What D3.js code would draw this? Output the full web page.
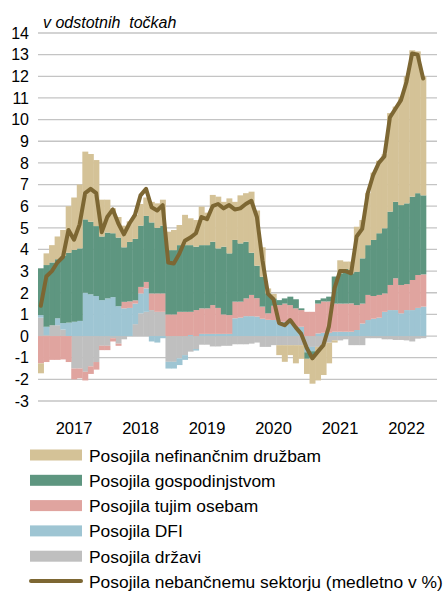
<!DOCTYPE html>
<html>
<head>
<meta charset="utf-8">
<script src="https://cdn.jsdelivr.net/npm/d3@7"></script>
<style>
  body { margin: 0; background: #fff; }
  text { font-family: "Liberation Sans", Arial, sans-serif; fill: #000; }
</style>
</head>
<body>
<svg id="chart" width="447" height="592"></svg>
<script>
// axis months (Jan 2017 - Dec 2022), data runs to Oct 2022
const months = [
  "2017-01","2017-02","2017-03","2017-04","2017-05","2017-06","2017-07","2017-08","2017-09","2017-10","2017-11","2017-12",
  "2018-01","2018-02","2018-03","2018-04","2018-05","2018-06","2018-07","2018-08","2018-09","2018-10","2018-11","2018-12",
  "2019-01","2019-02","2019-03","2019-04","2019-05","2019-06","2019-07","2019-08","2019-09","2019-10","2019-11","2019-12",
  "2020-01","2020-02","2020-03","2020-04","2020-05","2020-06","2020-07","2020-08","2020-09","2020-10","2020-11","2020-12",
  "2021-01","2021-02","2021-03","2021-04","2021-05","2021-06","2021-07","2021-08","2021-09","2021-10","2021-11","2021-12",
  "2022-01","2022-02","2022-03","2022-04","2022-05","2022-06","2022-07","2022-08","2022-09","2022-10","2022-11","2022-12"
];
const yearLabels = ["2017", "2018", "2019", "2020", "2021", "2022"];
const yearLabelMonths = ["2017-07", "2018-07", "2019-07", "2020-07", "2021-07", "2022-07"];
const yTicks = [-3, -2, -1, 0, 1, 2, 3, 4, 5, 6, 7, 8, 9, 10, 11, 12, 13, 14];

// contributions in percentage points
const drzavi = [
  0.85, 0.05, 0.5, 0.5, 0.3, 0, -1.5, -1.5, -1.65, -1.4, -1.2, -0.45,
  -0.45, -0.1, -0.35, -0.15, 0, 0.55, 1.05, 1.12, 1.2, 1.12, 1.12, -1.19,
  -1.19, -1.03, -0.88, -0.72, -0.6, -0.4, -0.4, -0.48, -0.48, -0.45, -0.45, -0.38,
  -0.38, -0.38, -0.35, -0.3, -0.5, -0.5, -0.42, -0.42, -0.42, -0.42, -0.42, -0.42,
  -0.5, -0.5, -0.5, -0.4, -0.3, -0.2, -0.2, -0.15, -0.42, -0.42, -0.42, -0.1,
  -0.1, -0.1, -0.15, -0.15, -0.18, -0.18, -0.2, -0.25, -0.12, -0.1
];
const dfi = [
  0.12, 0.38, 0, 0.32, 0.3, 0.62, 0.66, 0.7, 2.0, 1.93, 1.85, 1.66,
  1.74, 1.8, 1.38, 1.28, 1.3, 0.95, 0.92, 1.08, -0.25, -0.3, -0.1, -0.31,
  -0.31, -0.31, -0.22, 0.05, -0.07, 0.1, 0.1, 0.1, 0.1, 0.1, 0.1, 0.82,
  0.85, 0.92, 0.92, 0.9, 0.8, 0.75, 0.74, 0.66, 0.66, 0.6, 0.43, 0.43,
  -0.25, -0.2, 0.12, 0.15, 0.15, 0.2, 0.2, 0.2, 0.2, 0.28, 0.58, 0.74,
  0.8, 0.85, 1.12, 1.2, 1.2, 1.05, 1.2, 1.2, 1.3, 1.36
];
const tujimOsebam = [
  -1.26, -1.2, -1.1, -1.1, -1.08, -1.2, -0.5, -0.45, -0.4, -0.35, -0.35, -0.2,
  -0.2, -0.15, -0.1, 0.3, 0.3, 0.15, 0.3, 0.3, 0.77, 0.85, 0.85, 1.0,
  1.0, 1.12, 1.12, 1.07, 1.2, 1.18, 1.18, 1.33, 1.2, 0.9, 0.87, 0.77,
  0.74, 0.82, 0.98, 0.85, 0.56, 0.3, 0.66, 0.77, 0.84, 0.83, 0.85, 0.77,
  1.12, 1.12, 1.38, 1.45, 1.45, 1.3, 1.3, 1.3, 1.31, 1.15, 0.92, 1.16,
  1.05, 1.05, 0.85, 1.16, 1.47, 1.31, 1.2, 1.39, 1.52, 1.49
];
const gospodinjstvom = [
  2.16, 2.85, 2.9, 2.73, 3.1, 3.23, 3.32, 3.35, 3.39, 3.35, 3.23, 2.94,
  3.04, 2.95, 3.17, 2.52, 2.75, 2.84, 2.83, 3.05, 3.28, 3.03, 3.13, 2.97,
  2.97, 3.08, 3.08, 3.08, 2.93, 2.92, 2.92, 2.93, 2.75, 3.13, 2.85, 2.85,
  2.69, 2.62, 1.95, 1.5, 1.38, 0.92, 0.34, 0.23, 0.24, 0.39, 0.42, 0.08,
  -0.3, -0.3, 0.16, 0.14, 0.22, 1.25, 1.4, 1.6, 1.39, 1.54, 2.09, 2.3,
  2.59, 2.85, 3.01, 3.39, 3.53, 3.69, 3.73, 3.85, 3.78, 3.65
];
const nefinancnimDruzbam = [
  -0.46, 0.54, 0.8, 1.05, 1.2, 2.15, 2.42, 2.95, 3.13, 3.13, 3.05, 1.7,
  1.52, 1.15, 0.95, 1.0, 0.95, 1.1, 1.0, 0.85, 0.95, 1.13, 1.2, 0.85,
  0.93, 0.93, 1.4, 1.24, 1.23, 1.78, 1.5, 2.16, 2.39, 2.07, 2.54, 1.76,
  2.22, 2.24, 2.82, 2.55, 1.36, 0.23, 0.21, -0.46, -0.77, -0.46, -0.84, -0.63,
  -0.7, -1.2, -1.55, -1.4, -0.96, -0.1, 0.6, 0.34, 0.54, 2.08, 1.77, 2.4,
  3.11, 3.35, 3.42, 4.55, 4.4, 5.0, 5.87, 6.76, 6.55, 5.5
];
// loans to non-banking sector, y/y %
const nebancni = [
  1.4, 2.75, 3.0, 3.4, 3.65, 4.9, 4.45, 5.15, 6.6, 6.8, 6.6, 4.8,
  5.5, 5.85, 5.2, 4.7, 5.2, 5.6, 6.5, 6.8, 5.95, 5.8, 6.05, 3.4,
  3.35, 3.8, 4.4, 4.55, 4.75, 5.5, 5.4, 6.0, 6.1, 5.9, 6.05, 5.85,
  5.9, 6.1, 6.25, 5.5, 3.5, 1.95, 1.7, 0.6, 0.5, 0.74, 0.4, 0.1,
  -0.55, -1.03, -0.72, -0.42, 0.45, 2.2, 3.0, 3.0, 2.9, 4.6, 4.95, 6.6,
  7.45, 8.0, 8.3, 10.1, 10.5, 10.9, 11.75, 13.05, 13.0, 11.9
];

const seriesKeys = ["drzavi", "dfi", "tujim", "gospodinjstvom", "nefinancnim"];
const seriesColors = {
  drzavi: "#bfbfbf",
  dfi: "#9ec5d3",
  tujim: "#e0a49f",
  gospodinjstvom: "#5e9680",
  nefinancnim: "#d4c297"
};
const lineColor = "#7d6733";

const rows = nebancni.map((v, i) => ({
  month: months[i],
  drzavi: drzavi[i],
  dfi: dfi[i],
  tujim: tujimOsebam[i],
  gospodinjstvom: gospodinjstvom[i],
  nefinancnim: nefinancnimDruzbam[i],
  line: v
}));

const svg = d3.select("#chart");

const x = d3.scaleBand().domain(months).range([38, 437]).padding(0);
const y = d3.scaleLinear().domain([-3, 14]).range([401, 33]);

// gridlines
svg.append("g")
  .selectAll("line")
  .data(yTicks)
  .join("line")
    .attr("x1", 38).attr("x2", 437)
    .attr("y1", d => y(d)).attr("y2", d => y(d))
    .attr("stroke", "#c4c4c4")
    .attr("stroke-width", 1.3);

// y tick labels
svg.append("g")
  .selectAll("text")
  .data(yTicks)
  .join("text")
    .attr("x", 29)
    .attr("y", d => y(d))
    .attr("dy", "0.36em")
    .attr("text-anchor", "end")
    .style("font-size", "16px")
    .text(d => d);

// stacked bars, positives up / negatives down
const stacked = d3.stack()
  .keys(seriesKeys)
  .offset(d3.stackOffsetDiverging)(rows);

svg.append("g")
  .selectAll("g")
  .data(stacked)
  .join("g")
    .attr("fill", d => seriesColors[d.key])
  .selectAll("rect")
  .data(d => d)
  .join("rect")
    .attr("x", d => x(d.data.month))
    .attr("width", x.bandwidth() + 0.4)
    .attr("y", d => y(Math.max(d[0], d[1])))
    .attr("height", d => Math.abs(y(d[0]) - y(d[1])));

// growth line
const line = d3.line()
  .x(d => x(d.month) + x.bandwidth() / 2)
  .y(d => y(d.line));

svg.append("path")
  .datum(rows)
  .attr("d", line)
  .attr("fill", "none")
  .attr("stroke", lineColor)
  .attr("stroke-width", 4)
  .attr("stroke-linejoin", "round")
  .attr("stroke-linecap", "round");

// year labels
svg.append("g")
  .selectAll("text")
  .data(yearLabels)
  .join("text")
    .attr("x", (d, i) => x(yearLabelMonths[i]) + x.bandwidth() / 2)
    .attr("y", 434)
    .attr("text-anchor", "middle")
    .style("font-size", "16.5px")
    .text(d => d);

// unit title
svg.append("text")
  .attr("x", 43)
  .attr("y", 28)
  .attr("xml:space", "preserve")
  .style("font-size", "16px")
  .style("font-style", "italic")
  .text("v odstotnih  točkah");

// legend
const legendItems = [
  { label: "Posojila nefinančnim družbam", color: seriesColors.nefinancnim, type: "rect" },
  { label: "Posojila gospodinjstvom", color: seriesColors.gospodinjstvom, type: "rect" },
  { label: "Posojila tujim osebam", color: seriesColors.tujim, type: "rect" },
  { label: "Posojila DFI", color: seriesColors.dfi, type: "rect" },
  { label: "Posojila državi", color: seriesColors.drzavi, type: "rect" },
  { label: "Posojila nebančnemu sektorju (medletno v %)", color: lineColor, type: "line" }
];

const legend = svg.append("g")
  .selectAll("g")
  .data(legendItems)
  .join("g")
    .attr("transform", (d, i) => `translate(0,${461.5 + i * 25.3})`);

legend.filter(d => d.type === "rect")
  .append("rect")
    .attr("x", 30).attr("y", -12)
    .attr("width", 52).attr("height", 11)
    .attr("fill", d => d.color);

legend.filter(d => d.type === "line")
  .append("line")
    .attr("x1", 31).attr("x2", 81)
    .attr("y1", -7).attr("y2", -7)
    .attr("stroke", d => d.color)
    .attr("stroke-width", 4)
    .attr("stroke-linecap", "round");

legend.append("text")
  .attr("x", 89)
  .attr("y", 0)
  .style("font-size", "17.4px")
  .text(d => d.label);
</script>
</body>
</html>
